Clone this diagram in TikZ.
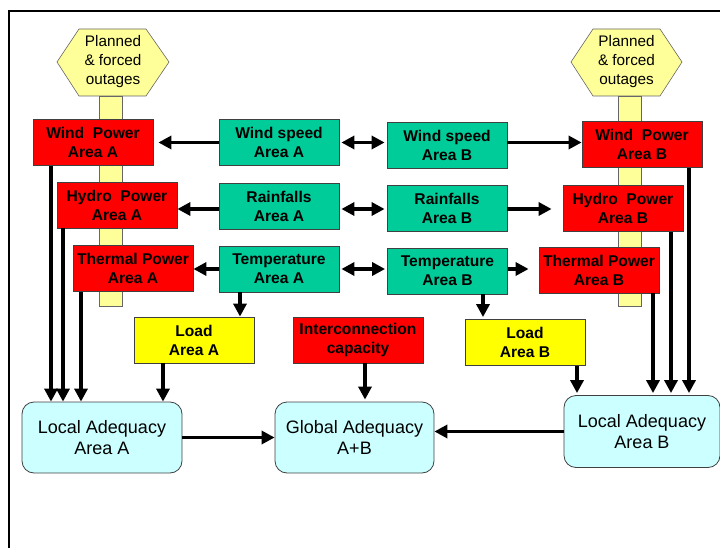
\documentclass[tikz,border=0pt]{standalone}
\usepackage{fontspec}
\setmainfont{Liberation Sans}
\usetikzlibrary{arrows.meta}
\definecolor{boxred}{HTML}{FF0000}
\definecolor{boxgreen}{HTML}{00CC99}
\definecolor{boxyellow}{HTML}{FFFF00}
\definecolor{paleyellow}{HTML}{FFFF99}
\definecolor{palecyan}{HTML}{CCFFFF}
\tikzset{
  box/.style={draw=black!75, line width=0.8pt, minimum width=120pt, minimum height=46pt,
    inner sep=0pt, align=center, font=\bfseries\fontsize{15.6}{19}\selectfont},
  redbox/.style={box, fill=boxred},
  greenbox/.style={box, fill=boxgreen},
  loadbox/.style={box, fill=boxyellow},
  adq/.style={draw=black!75, line width=0.8pt, fill=palecyan, rounded corners=12pt,
    minimum width=160pt, minimum height=71pt, inner sep=0pt, align=center,
    font=\fontsize{18}{21}\selectfont},
  hextext/.style={align=center, inner sep=0pt, font=\fontsize{15.3}{19}\selectfont},
  bar/.style={draw=black!60, line width=0.6pt, fill=paleyellow},
  hexshape/.style={draw=black!60, line width=0.6pt, fill=paleyellow},
  arr/.style={line width=3.3pt, -{Triangle[length=13pt,width=13pt]}},
  darr/.style={line width=3.3pt, {Triangle[length=13pt,width=13pt]}-{Triangle[length=13pt,width=13pt]}},
}
\begin{document}
\begin{tikzpicture}[x=1pt,y=-1pt]
\useasboundingbox (0,0) rectangle (720,548);
% frame
\draw[line width=2pt] (721,11) -- (9,11) -- (9,549);
% yellow bars
\draw[bar] (99,96) rectangle (122,306);
\draw[bar] (618,96) rectangle (641,306);
% hexagons
\draw[hexshape] (57,62) -- (79,29) -- (146,29) -- (169,62) -- (146,96) -- (79,96) -- cycle;
\draw[hexshape] (571,62) -- (593,29) -- (660,29) -- (682,62) -- (660,96) -- (593,96) -- cycle;
\node[hextext] (hexA) at (113,62) {Planned\\\&\ forced\\outages};
\node[hextext] (hexB) at (626.5,62) {Planned\\\&\ forced\\outages};
% power boxes
\node[redbox] (wpA) at (93,142.5) {Wind\ \ Power\\Area A};
\node[redbox] (hpA) at (117,205) {Hydro\ \ Power\\Area A};
\node[redbox] (tpA) at (133,268.5) {Thermal Power\\Area A};
\node[redbox] (wpB) at (642,144.5) {Wind\ \ Power\\Area B};
\node[redbox] (hpB) at (623,208.5) {Hydro\ \ Power\\Area B};
\node[redbox] (tpB) at (599,270) {Thermal Power\\Area B};
% weather boxes
\node[greenbox] (wsA) at (279,142.5) {Wind speed\\Area A};
\node[greenbox] (rfA) at (279,206) {Rainfalls\\Area A};
\node[greenbox] (tmA) at (279,269) {Temperature\\Area A};
\node[greenbox] (wsB) at (447,145) {Wind speed\\Area B};
\node[greenbox] (rfB) at (447,208) {Rainfalls\\Area B};
\node[greenbox] (tmB) at (447.5,271) {Temperature\\Area B};
% load & interconnection
\node[loadbox] (ldA) at (194,340) {Load\\Area A};
\node[redbox, minimum width=130pt] (ic) at (358,340) {Interconnection\\capacity};
\node[loadbox] (ldB) at (525,342.5) {Load\\Area B};
% adequacy
\node[adq] (laA) at (102,437.5) {Local Adequacy\\Area A};
\node[adq, minimum width=159pt] (gA) at (354.5,437.5) {Global Adequacy\\A+B};
\node[adq, minimum width=156pt, minimum height=72pt] (laB) at (642,431.5) {Local Adequacy\\Area B};
% row 1
\draw[arr, shorten >=5pt] (wsA.west) -- (wsA.west -| wpA.east);
\draw[darr, shorten <=2pt, shorten >=2pt] (wsA.east) -- (wsA.east -| wsB.west);
\draw[arr] (wsB.east |- wsA.east) -- (wpB.west |- wsA.east);
% row 2
\draw[arr] ([yshift=-3pt]rfA.west) -- ([yshift=-3pt]rfA.west -| hpA.east);
\draw[darr, shorten <=2pt, shorten >=2pt] ([yshift=-3pt]rfA.east) -- ([yshift=-3pt]rfA.east -| rfB.west);
\draw[arr, shorten >=11pt] ([yshift=-3pt]rfB.east |- rfA.east) -- ([yshift=-3pt]hpB.west |- rfA.east);
% row 3
\draw[arr] (tmA.west) -- (tmA.west -| tpA.east);
\draw[darr, shorten <=2pt, shorten >=2pt] (tmA.east) -- (tmA.east -| tmB.west);
\draw[arr, shorten >=10pt] (tmB.east |- tmA.east) -- (tpB.west |- tmA.east);
% to loads
\draw[arr] ([xshift=-39pt]tmA.south) -- ([xshift=-39pt]tmA.south |- ldA.north);
\draw[arr, shorten >=2pt] ([xshift=35.5pt]tmB.south) -- ([xshift=35.5pt]tmB.south |- ldB.north);
% into local adequacy A
\draw[arr] ([xshift=-42pt]wpA.south) -- ([xshift=-42pt]wpA.south |- laA.north);
\draw[arr] ([xshift=-54pt]hpA.south) -- ([xshift=-54pt]hpA.south |- laA.north);
\draw[arr] ([xshift=-52pt]tpA.south) -- ([xshift=-52pt]tpA.south |- laA.north);
\draw[arr] ([xshift=-31pt]ldA.south) -- ([xshift=-31pt]ldA.south |- laA.north);
% interconnection to global
\draw[arr, shorten >=2pt] ([xshift=7pt]ic.south) -- ([xshift=7pt]ic.south |- gA.north);
% into local adequacy B
\draw[arr, shorten >=2pt] ([xshift=52pt]ldB.south) -- ([xshift=52pt]ldB.south |- laB.north);
\draw[arr, shorten >=2pt] ([xshift=54pt]tpB.south) -- ([xshift=54pt]tpB.south |- laB.north);
\draw[arr, shorten >=2pt] ([xshift=48pt]hpB.south) -- ([xshift=48pt]hpB.south |- laB.north);
\draw[arr, shorten >=2pt] ([xshift=47pt]wpB.south) -- ([xshift=47pt]wpB.south |- laB.north);
% adequacy links
\draw[arr] (laA.east) -- (laA.east -| gA.west);
\draw[arr] (laB.west) -- (laB.west -| gA.east);
\end{tikzpicture}
\end{document}
